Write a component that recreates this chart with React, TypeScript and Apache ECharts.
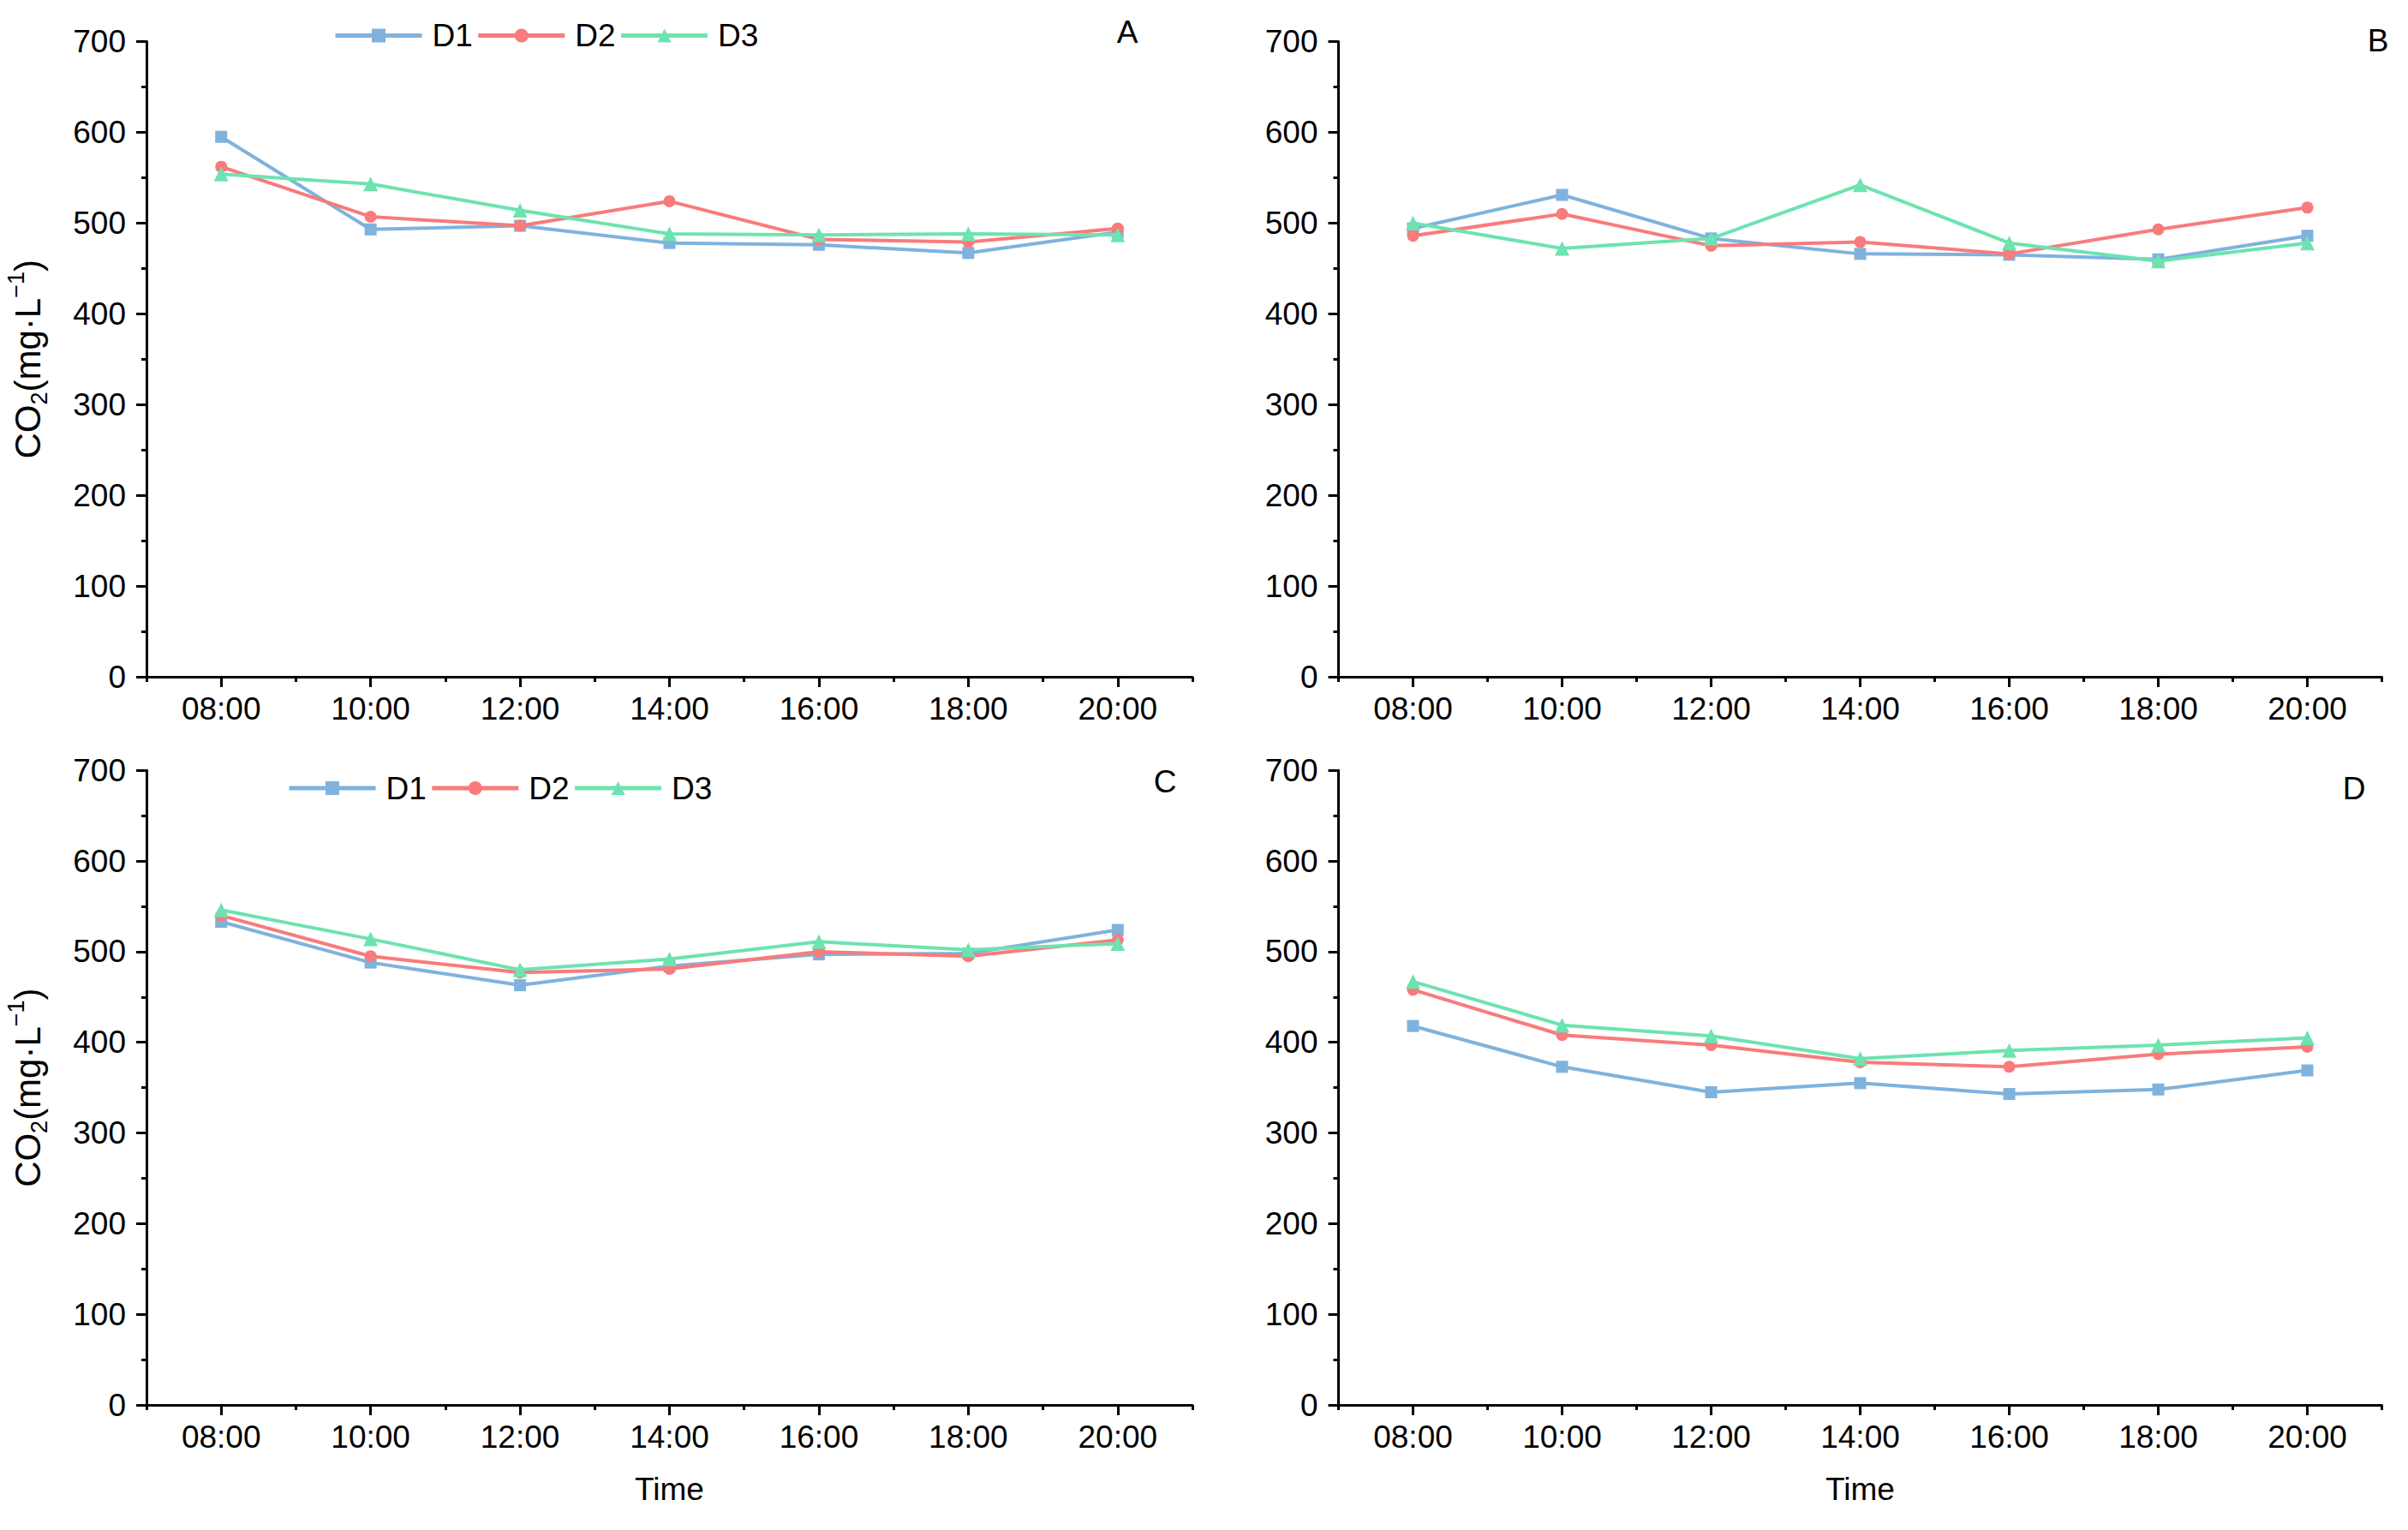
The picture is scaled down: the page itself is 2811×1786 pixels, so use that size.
import React, { useEffect, useRef } from "react";
import * as echarts from "echarts";

const hours = ["08:00", "10:00", "12:00", "14:00", "16:00", "18:00", "20:00"];
const seriesNames = ["D1", "D2", "D3"];

const aD1 = [595, 493, 497, 478, 476, 467, 490];
const aD2 = [562, 507, 497, 524, 482, 479, 494];
const aD3 = [554, 543, 514, 488, 487, 488, 487];

const bD1 = [494, 531, 483, 466, 465, 460, 486];
const bD2 = [486, 510, 475, 479, 466, 493, 517];
const bD3 = [500, 472, 483, 542, 478, 458, 478];

const cD1 = [533, 488, 463, 484, 497, 498, 524];
const cD2 = [540, 495, 477, 481, 500, 495, 513];
const cD3 = [546, 514, 480, 492, 511, 502, 509];

const dD1 = [418, 373, 345, 355, 343, 348, 369];
const dD2 = [458, 408, 397, 378, 373, 387, 395];
const dD3 = [467, 419, 407, 382, 391, 397, 405];

const yMin = 0;
const yMax = 700;
const yStep = 100;

const panelLetters = ["A", "B", "C", "D"];

const FONT = "'Liberation Sans', Arial, sans-serif";
const COLORS = ["#7FB2DD", "#F97B7B", "#6DE3B0"];
const SYMBOLS = ["rect", "circle", "triangle"];
const SYMBOL_SIZES = [14, 14, 17];

export default function App() {
  const ref = useRef<HTMLDivElement>(null);

  useEffect(() => {
    document.body.style.margin = "0";
    if (!ref.current) return;
    const chart = echarts.init(ref.current, null, { renderer: "svg" });

    const panels = [
      { data: [aD1, aD2, aD3], grid: { left: 171, top: 48.5, width: 1221, height: 741.5 }, yName: true, xName: false },
      { data: [bD1, bD2, bD3], grid: { left: 1562.5, top: 48.5, width: 1218, height: 741.5 }, yName: false, xName: false },
      { data: [cD1, cD2, cD3], grid: { left: 171, top: 899.3, width: 1221, height: 740.7 }, yName: true, xName: true },
      { data: [dD1, dD2, dD3], grid: { left: 1562.5, top: 899.3, width: 1218, height: 740.7 }, yName: false, xName: true },
    ];

    const letterPos = [
      [1316, 37],
      [2776, 47],
      [1360, 912],
      [2748, 920],
    ];

    const axisLine = { show: true, lineStyle: { color: "#000", width: 3 } };
    const grids: any[] = [];
    const xAxes: any[] = [];
    const yAxes: any[] = [];
    const series: any[] = [];

    panels.forEach((p, i) => {
      grids.push({ ...p.grid, containLabel: false });
      xAxes.push({
        type: "category",
        gridIndex: i,
        position: "bottom",
        data: hours,
        boundaryGap: true,
        axisLine,
        axisTick: { show: true, interval: 0, length: 6, alignWithLabel: false, lineStyle: { color: "#000", width: 3 } },
        axisLabel: { interval: 0, color: "#000", fontSize: 37, fontFamily: FONT, margin: 19 },
        splitLine: { show: false },
        name: p.xName ? "Time" : "",
        nameLocation: "middle",
        nameGap: 80,
        nameTextStyle: { color: "#000", fontSize: 37, fontFamily: FONT },
      });
      xAxes.push({
        type: "category",
        gridIndex: i,
        position: "bottom",
        data: hours,
        boundaryGap: true,
        axisLine: { show: false },
        axisTick: { show: true, interval: 0, length: 12, alignWithLabel: true, lineStyle: { color: "#000", width: 3 } },
        axisLabel: { show: false },
        splitLine: { show: false },
      });
      yAxes.push({
        type: "value",
        gridIndex: i,
        min: yMin,
        max: yMax,
        interval: yStep,
        axisLine,
        axisTick: { show: true, length: 12, lineStyle: { color: "#000", width: 3 } },
        minorTick: { show: true, splitNumber: 2, length: 6, lineStyle: { color: "#000", width: 3 } },
        axisLabel: { color: "#000", fontSize: 37, fontFamily: FONT, margin: 24 },
        splitLine: { show: false },
        minorSplitLine: { show: false },
        name: p.yName ? "{a|CO}{b|2}{a|(mg·L}{c|−1}{a|)}" : "",
        nameLocation: "middle",
        nameRotate: 90,
        nameGap: 112,
        nameTextStyle: {
          color: "#000",
          fontFamily: FONT,
          rich: {
            a: { fontSize: 42, lineHeight: 54, fontFamily: FONT, color: "#000" },
            b: { fontSize: 27, lineHeight: 26, verticalAlign: "bottom", fontFamily: FONT, color: "#000" },
            c: { fontSize: 27, lineHeight: 26, verticalAlign: "top", fontFamily: FONT, color: "#000" },
          },
        },
      });
      p.data.forEach((vals, k) => {
        series.push({
          type: "line",
          name: seriesNames[k],
          xAxisIndex: i * 2,
          yAxisIndex: i,
          data: vals,
          symbol: SYMBOLS[k],
          symbolSize: SYMBOL_SIZES[k],
          showAllSymbol: true,
          lineStyle: { color: COLORS[k], width: 4 },
          itemStyle: { color: COLORS[k] },
          z: 2 + k,
        });
      });
    });

    const legendCommon = {
      data: seriesNames,
      orient: "horizontal",
      itemWidth: 101,
      itemHeight: 20,
      itemGap: 4,
      lineStyle: { width: 5 },
      textStyle: { color: "#000", fontSize: 37, fontFamily: FONT, padding: [0, 0, 0, 7] },
    };

    chart.setOption({
      animation: false,
      backgroundColor: "#fff",
      grid: grids,
      xAxis: xAxes,
      yAxis: yAxes,
      series,
      legend: [
        { ...legendCommon, left: 384, top: 18 },
        { ...legendCommon, left: 330, top: 896.5 },
      ],
      graphic: panelLetters.map((t, i) => ({
        type: "text",
        x: letterPos[i][0],
        y: letterPos[i][1],
        style: {
          text: t,
          fontSize: 37,
          fontFamily: FONT,
          fill: "#000",
          textAlign: "center",
          textVerticalAlign: "middle",
        },
      })),
    });

    return () => {
      chart.dispose();
    };
  }, []);

  return <div ref={ref} style={{ width: 2811, height: 1786 }} />;
}
